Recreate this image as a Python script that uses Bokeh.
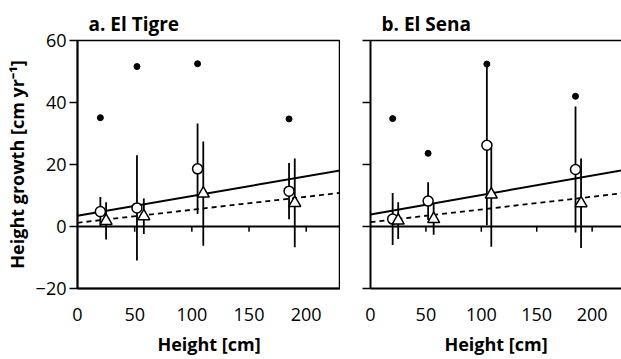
from bokeh.plotting import figure
from bokeh.layouts import row
from bokeh.models import Range1d, Span, FixedTicker, LinearAxis
from bokeh.embed import file_html
from bokeh.resources import INLINE

# Height classes (cm) at which growth was measured
x_circle_a = [20, 52, 105, 185]
x_tri_a = [25, 58, 110, 190]
x_circle_b = [20, 52, 105, 185]
x_tri_b = [25, 57, 109, 190]

# El Tigre: maximum growth, means and SDs of the two groups
max_a = [35.1, 51.6, 52.5, 34.7]
mean_circle_a = [4.8, 6.0, 18.6, 11.4]
sd_circle_a = [4.7, 17.0, 14.6, 9.1]
mean_tri_a = [1.8, 3.3, 10.6, 7.6]
sd_tri_a = [6.0, 5.7, 16.8, 14.3]

# El Sena
max_b = [34.8, 23.6, 52.4, 42.0]
mean_circle_b = [2.4, 8.2, 26.2, 18.4]
sd_circle_b = [8.4, 6.1, 25.8, 20.3]
mean_tri_b = [1.9, 2.4, 10.3, 7.5]
sd_tri_b = [5.9, 5.1, 16.8, 14.4]

# Linear fits: (intercept, slope)
fit_solid_a = (3.5, 0.0635)
fit_dash_a = (1.2, 0.042)
fit_solid_b = (3.9, 0.0627)
fit_dash_b = (1.4, 0.041)

x_ticks = [0, 50, 100, 150, 200]
y_ticks = [-20, 0, 20, 40, 60]

FONT = "Open Sans"


def panel(title, xmax, frame_w, border_left, xc, xt, mx, mc, sc, mt, st,
          fit_s, fit_d, show_labels):
    p = figure(frame_width=frame_w, frame_height=248,
               x_range=Range1d(0, xmax), y_range=Range1d(-20, 60),
               min_border_left=border_left, min_border_right=0,
               min_border_top=40, min_border_bottom=71,
               output_backend="svg", toolbar_location=None)
    p.grid.visible = False
    p.background_fill_color = "white"
    p.border_fill_color = "white"

    p.title.text = title
    p.title.align = "left"
    p.title.offset = 11
    p.title.text_font = FONT
    p.title.text_font_style = "bold"
    p.title.text_font_size = "19px"
    p.title.text_color = "black"
    p.title.standoff = 7

    # x axis: labels only, the tick marks sit on the zero line
    xa = p.xaxis[0]
    xa.ticker = FixedTicker(ticks=x_ticks)
    xa.major_tick_out = 0
    xa.major_tick_in = 0
    xa.minor_tick_out = 0
    xa.minor_tick_in = 0
    xa.axis_line_width = 2
    xa.major_label_text_font = FONT
    xa.major_label_text_font_size = "18px"
    xa.major_label_text_color = "black"
    xa.major_label_standoff = 19
    xa.axis_label = "Height [cm]"
    xa.axis_label_text_font = FONT
    xa.axis_label_text_font_style = "bold"
    xa.axis_label_text_font_size = "18px"
    xa.axis_label_text_color = "black"
    xa.axis_label_standoff = 8

    ya = p.yaxis[0]
    ya.ticker = FixedTicker(ticks=y_ticks)
    ya.major_tick_out = 8
    ya.major_tick_in = 0
    ya.minor_tick_out = 0
    ya.minor_tick_in = 0
    ya.axis_line_width = 2
    ya.major_tick_line_width = 1.5
    if show_labels:
        ya.major_label_text_font = FONT
        ya.major_label_text_font_size = "18px"
        ya.major_label_text_color = "black"
        ya.major_label_standoff = 3
        ya.axis_label = "Height growth [cm yr\u207b\u00b9]"
        ya.axis_label_text_font = FONT
        ya.axis_label_text_font_style = "bold"
        ya.axis_label_text_font_size = "18px"
        ya.axis_label_text_color = "black"
        ya.axis_label_standoff = 4
        p.outline_line_color = "black"
        p.outline_line_width = 1.5
    else:
        ya.major_label_overrides = {t: "" for t in y_ticks}
        ya.major_label_standoff = 0
        p.outline_line_color = None
        top = LinearAxis(ticker=FixedTicker(ticks=[]),
                         major_tick_out=0, minor_tick_out=0, axis_line_width=1.5)
        p.add_layout(top, "above")

    # zero line with its tick marks
    p.add_layout(Span(location=0, dimension="width", line_color="black", line_width=2))
    tk = [t for t in x_ticks if t > 0]
    p.segment(x0=tk, y0=[0] * len(tk), x1=tk, y1=[-1.7] * len(tk),
              line_color="black", line_width=1.5)

    # fitted lines
    xs = [0, xmax]
    p.line(xs, [fit_s[0] + fit_s[1] * x for x in xs], line_color="black", line_width=2)
    p.line(xs, [fit_d[0] + fit_d[1] * x for x in xs], line_color="black", line_width=1.8,
           line_dash="5 4")

    # error bars (mean +/- SD)
    p.segment(x0=xc, y0=[m - s for m, s in zip(mc, sc)], x1=xc,
              y1=[m + s for m, s in zip(mc, sc)], line_color="black", line_width=1.8)
    p.segment(x0=xt, y0=[m - s for m, s in zip(mt, st)], x1=xt,
              y1=[m + s for m, s in zip(mt, st)], line_color="black", line_width=1.8)

    # maxima
    p.scatter(xc, mx, marker="circle", size=6, color="black")
    # means
    p.scatter(xc, mc, marker="circle", size=10, fill_color="white",
              line_color="black", line_width=1.5)
    p.scatter(xt, mt, marker="triangle", size=12, fill_color="white",
              line_color="black", line_width=1.5)
    return p


pa = panel("a. El Tigre", 230, 263, 77, x_circle_a, x_tri_a, max_a,
           mean_circle_a, sd_circle_a, mean_tri_a, sd_tri_a,
           fit_solid_a, fit_dash_a, True)
pb = panel("b. El Sena", 226.5, 251, 30, x_circle_b, x_tri_b, max_b,
           mean_circle_b, sd_circle_b, mean_tri_b, sd_tri_b,
           fit_solid_b, fit_dash_b, False)

p = row(pa, pb, spacing=0)
open("out.html", "w").write(file_html(p, INLINE))
